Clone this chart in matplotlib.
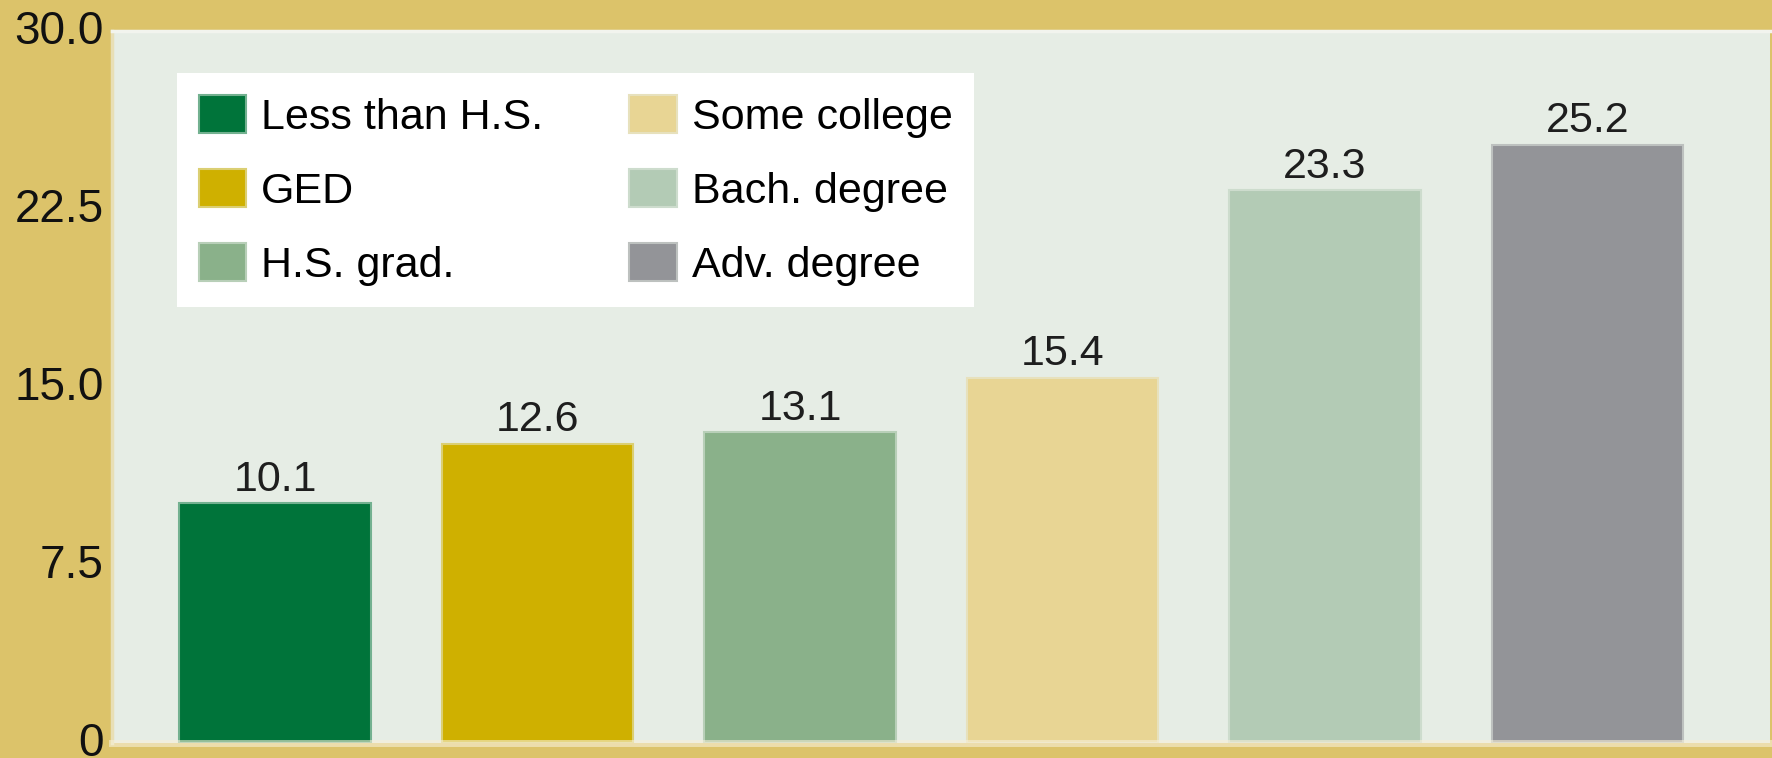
import numpy as np
import matplotlib.pyplot as plt
from matplotlib.colors import to_rgb
from matplotlib.transforms import ScaledTranslation

categories = ["Less than H.S.", "GED", "H.S. grad.", "Some college", "Bach. degree", "Adv. degree"]
values = [10.1, 12.6, 13.1, 15.4, 23.3, 25.2]
bar_colors = ["#00743a", "#cfb000", "#8ab18a", "#e8d594", "#b3cbb5", "#939498"]
yticks = [0, 7.5, 15.0, 22.5, 30.0]
ytick_labels = ["0", "7.5", "15.0", "22.5", "30.0"]

gold = "#dcc36a"
panel = "#e6ede5"


def blend(c1, c2, t=0.5):
    a = np.array(to_rgb(c1))
    b = np.array(to_rgb(c2))
    return tuple(a * (1 - t) + b * t)


plt.rcParams['font.family'] = ['Liberation Sans', 'DejaVu Sans']

fig = plt.figure(figsize=(17.72, 7.58), dpi=100, facecolor=gold)
ax = fig.add_axes([112 / 1772, 15 / 758, 1658 / 1772, 712 / 758])
ax.set_facecolor(panel)

# bars, one per category so that each gets its legend entry
x = np.arange(len(values))
for xi, v, c, lab in zip(x, values, bar_colors, categories):
    ax.bar(xi, v, width=0.73, color=c, edgecolor=blend(c, panel, 0.5),
           linewidth=1.5, label=lab)
    ax.annotate(f"{v:.1f}", (xi, v), xytext=(0, 9), textcoords='offset points',
                ha='center', va='baseline', fontsize=31, color='#1e1e1e')

ax.set_xlim(-0.621, 5.695)
ax.set_ylim(0, 30)
ax.set_xticks([])
ax.set_yticks(yticks)
ax.set_yticklabels(ytick_labels)
ax.tick_params(axis='y', length=0, pad=6, labelsize=33, labelcolor='#111111')
# labels sit a little above their tick position in the original
for t in ax.get_yticklabels():
    t.set_transform(t.get_transform() + ScaledTranslation(0, 4 / 100, fig.dpi_scale_trans))

# thin light borders around the panel
ax.spines['right'].set_visible(False)
ax.spines['left'].set_color('#e8dfb6')
ax.spines['left'].set_linewidth(2.5)
ax.spines['top'].set_color('#f2f4ee')
ax.spines['top'].set_linewidth(2.5)
ax.spines['bottom'].set_color((0.97, 0.94, 0.85, 0.6))
ax.spines['bottom'].set_linewidth(5)

leg = ax.legend(ncol=2, loc='upper left', bbox_to_anchor=(0.0392, 0.941),
                borderaxespad=0, fontsize=31, frameon=True, fancybox=False,
                facecolor='white', edgecolor='white', framealpha=1,
                handlelength=1.1, handleheight=1.0, handletextpad=0.35,
                labelspacing=0.72, columnspacing=2.0, borderpad=0.5)
leg.get_frame().set_linewidth(0)

fig.savefig("out.png", dpi=100, facecolor=gold)
